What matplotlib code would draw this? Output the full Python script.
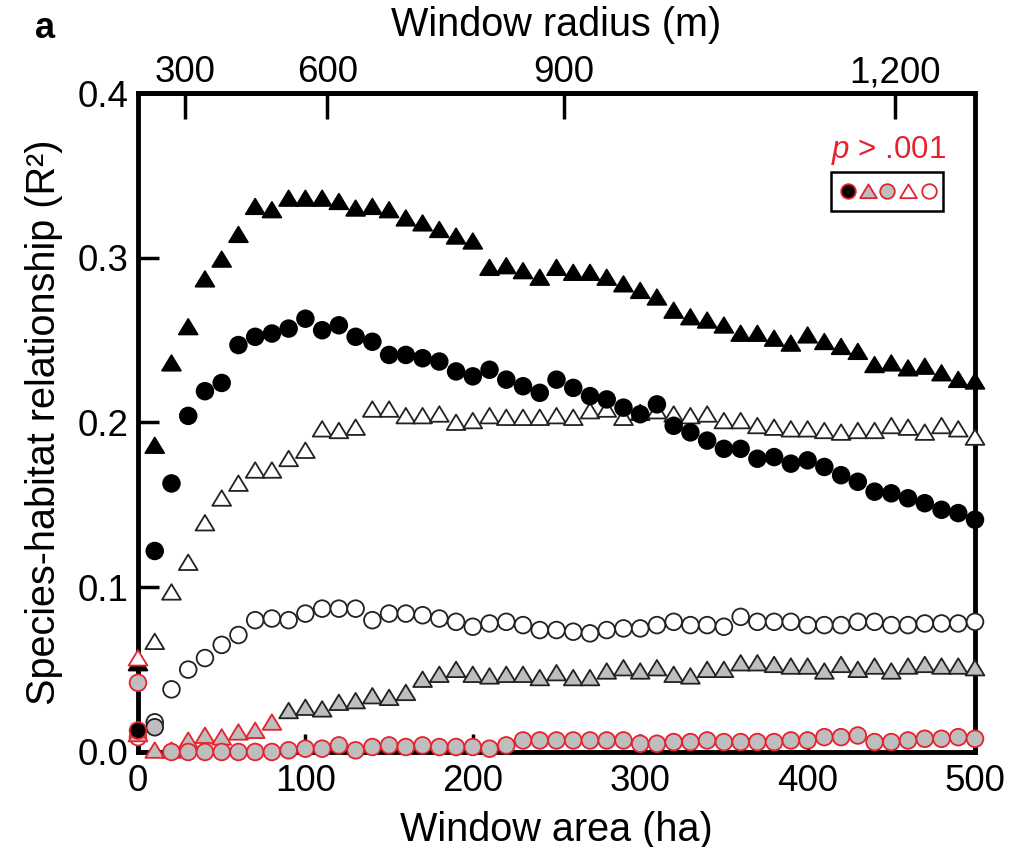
#%% Imports
import numpy as np
import matplotlib
matplotlib.use('Agg')
import matplotlib.pyplot as plt
from matplotlib.patches import Rectangle
from matplotlib.path import Path

plt.rcParams['font.family'] = ['Liberation Sans', 'DejaVu Sans']
plt.rcParams['mathtext.fontset'] = 'custom'
plt.rcParams['mathtext.rm'] = 'Liberation Sans'
plt.rcParams['mathtext.it'] = 'Liberation Sans:italic'

#%% Data
area = np.arange(0, 510, 10)  # window area, ha

black_tri = [
    0.054, 0.186, 0.236, 0.258, 0.287, 0.299, 0.314, 0.331, 0.329, 0.336,
    0.336, 0.336, 0.334, 0.330, 0.331, 0.329, 0.324, 0.321, 0.317, 0.313,
    0.310, 0.294, 0.295, 0.292, 0.288, 0.294, 0.291, 0.291, 0.288, 0.284,
    0.280, 0.276, 0.268, 0.264, 0.262, 0.259, 0.254, 0.254, 0.251, 0.248,
    0.253, 0.249, 0.246, 0.243, 0.235, 0.236, 0.233, 0.234, 0.230, 0.226,
    0.225,
]
black_circ = [
    0.013, 0.122, 0.163, 0.204, 0.219, 0.224, 0.247, 0.252, 0.254, 0.257,
    0.263, 0.256, 0.259, 0.252, 0.249, 0.241, 0.241, 0.239, 0.237, 0.231,
    0.228, 0.232, 0.226, 0.222, 0.218, 0.226, 0.221, 0.216, 0.214, 0.209,
    0.205, 0.211, 0.198, 0.194, 0.189, 0.184, 0.184, 0.178, 0.179, 0.175,
    0.177, 0.173, 0.168, 0.164, 0.158, 0.157, 0.154, 0.151, 0.147, 0.145,
    0.141,
]
open_tri = [
    0.057, 0.067, 0.097, 0.115, 0.139, 0.154, 0.163, 0.171, 0.171, 0.178,
    0.183, 0.196, 0.195, 0.197, 0.208, 0.208, 0.204, 0.204, 0.205, 0.200,
    0.201, 0.204, 0.203, 0.203, 0.203, 0.204, 0.203, 0.207, 0.208, 0.203,
    0.206, 0.207, 0.205, 0.204, 0.205, 0.201, 0.201, 0.198, 0.197, 0.196,
    0.196, 0.195, 0.194, 0.195, 0.195, 0.198, 0.197, 0.194, 0.198, 0.196,
    0.191,
]
open_circ = [
    0.009, 0.018, 0.038, 0.050, 0.057, 0.065, 0.071, 0.080, 0.081, 0.080,
    0.084, 0.087, 0.087, 0.087, 0.080, 0.084, 0.084, 0.083, 0.081, 0.079,
    0.076, 0.078, 0.079, 0.077, 0.074, 0.074, 0.073, 0.072, 0.074, 0.075,
    0.075, 0.077, 0.079, 0.077, 0.077, 0.076, 0.082, 0.079, 0.079, 0.079,
    0.077, 0.077, 0.077, 0.079, 0.079, 0.077, 0.077, 0.078, 0.078, 0.078,
    0.079,
]
gray_tri = [
    0.011, 0.001, 0.001, 0.007, 0.010, 0.009, 0.012, 0.013, 0.018, 0.025,
    0.027, 0.026, 0.030, 0.031, 0.034, 0.033, 0.036, 0.044, 0.047, 0.050,
    0.047, 0.046, 0.047, 0.047, 0.045, 0.048, 0.045, 0.045, 0.049, 0.051,
    0.049, 0.051, 0.047, 0.046, 0.050, 0.050, 0.054, 0.054, 0.053, 0.052,
    0.052, 0.049, 0.053, 0.050, 0.052, 0.049, 0.052, 0.053, 0.052, 0.052,
    0.051,
]
gray_circ = [
    0.042, 0.015, 0.000, 0.000, 0.000, 0.000, 0.000, 0.000, 0.000, 0.001,
    0.002, 0.002, 0.004, 0.001, 0.003, 0.004, 0.003, 0.004, 0.003, 0.003,
    0.003, 0.002, 0.004, 0.007, 0.007, 0.007, 0.007, 0.007, 0.007, 0.007,
    0.005, 0.005, 0.006, 0.006, 0.007, 0.006, 0.006, 0.006, 0.006, 0.007,
    0.007, 0.009, 0.009, 0.010, 0.006, 0.006, 0.007, 0.008, 0.008, 0.009,
    0.008,
]

# windows (ha) where p > .001 -> red outline
ns_black_tri = []
ns_black_circ = [0]
ns_open_tri = [0]
ns_open_circ = [0]
ns_gray_tri = [0, 10, 20, 30, 40, 50, 60, 70, 80]
ns_gray_circ = [a for a in area if a != 10]

radius_ticks = [300, 600, 900, 1200]
radius_labels = ['300', '600', '900', '1,200']

#%% Style
RED = '#e6222e'
GRAY = '#bebebe'
# equilateral-ish triangle, closed so the outline has all three sides
tri = Path([(-1, -0.8), (1, -0.8), (0, 0.85), (-1, -0.8)],
           [Path.MOVETO, Path.LINETO, Path.LINETO, Path.CLOSEPOLY])
ms_circ = 12
ms_tri = 13.5

series = [
    # values, non-sig, marker, size, face, edge
    (black_tri, ns_black_tri, tri, ms_tri, 'black', 'black'),
    (open_tri, ns_open_tri, tri, ms_tri, 'white', '#222222'),
    (open_circ, ns_open_circ, 'o', ms_circ, 'white', '#222222'),
    (gray_tri, ns_gray_tri, tri, ms_tri, GRAY, '#222222'),
    (gray_circ, ns_gray_circ, 'o', ms_circ, GRAY, '#222222'),
    (black_circ, ns_black_circ, 'o', ms_circ, 'black', 'black'),
]

#%% Plot
fig = plt.figure(figsize=(10.26, 8.47), dpi=100)
ax = fig.add_axes([0.1345, 0.1122, 0.8158, 0.778])

for vals, ns, mk, ms, fc, ec in series:
    edges = [RED if a in ns else ec for a in area]
    ax.scatter(area, vals, s=ms**2, marker=mk, facecolors=fc,
               edgecolors=edges, linewidths=1.3, clip_on=False, zorder=3)

ax.set_xlim(0, 500)
ax.set_ylim(0, 0.4)
ax.set_xticks(range(0, 501, 100))
ax.set_yticks([0, 0.1, 0.2, 0.3, 0.4])
ax.set_yticklabels(['0.0', '0.1', '0.2', '0.3', '0.4'])
ax.tick_params(axis='x', direction='in', length=13, width=2.5,
               labelsize=26.5, pad=9, top=False)
ax.tick_params(axis='y', direction='in', length=15, width=2.5,
               labelsize=26.5, pad=7, right=False)
for sp in ax.spines.values():
    sp.set_linewidth(3.5)
ax.set_xlabel('Window area (ha)', fontsize=28.5, labelpad=8)
ax.set_ylabel('Species-habitat relationship (R\u00b2)', fontsize=28.5,
              labelpad=10)

# radius axis on top
a2r = lambda a: np.sqrt(np.maximum(a, 0) * 1e4 / np.pi)
r2a = lambda r: np.pi * np.asarray(r) ** 2 / 1e4
sec = ax.secondary_xaxis('top', functions=(a2r, r2a))
sec.set_xticks(radius_ticks)
sec.set_xticklabels(radius_labels)
sec.tick_params(direction='in', length=19, width=2.5, labelsize=26.5, pad=2)
sec.spines['top'].set_linewidth(3.5)
sec.set_xlabel('Window radius (m)', fontsize=28.5, labelpad=14)

# significance key
ax.text(0.897, 0.912, '$p$ > .001', transform=ax.transAxes, color=RED,
        fontsize=22.5, ha='center', va='center')
ax.add_patch(Rectangle((0.828, 0.821), 0.134, 0.059, transform=ax.transAxes,
                       fill=False, edgecolor='black', linewidth=1.8, zorder=4))
key = [('o', 'black', 10.5), (tri, GRAY, 12), ('o', GRAY, 10.5),
       (tri, 'white', 12), ('o', 'white', 10.5)]
key_x = [0.848, 0.872, 0.895, 0.920, 0.945]
for (mk, fc, ks), kx in zip(key, key_x):
    ax.scatter([kx], [0.851], s=ks**2, marker=mk, facecolors=fc,
               edgecolors=RED, linewidths=1.3, transform=ax.transAxes,
               zorder=5)

fig.text(0.044, 0.966, 'a', fontsize=26, fontweight='bold',
         ha='center', va='center')

fig.savefig('out.png', dpi=100)
